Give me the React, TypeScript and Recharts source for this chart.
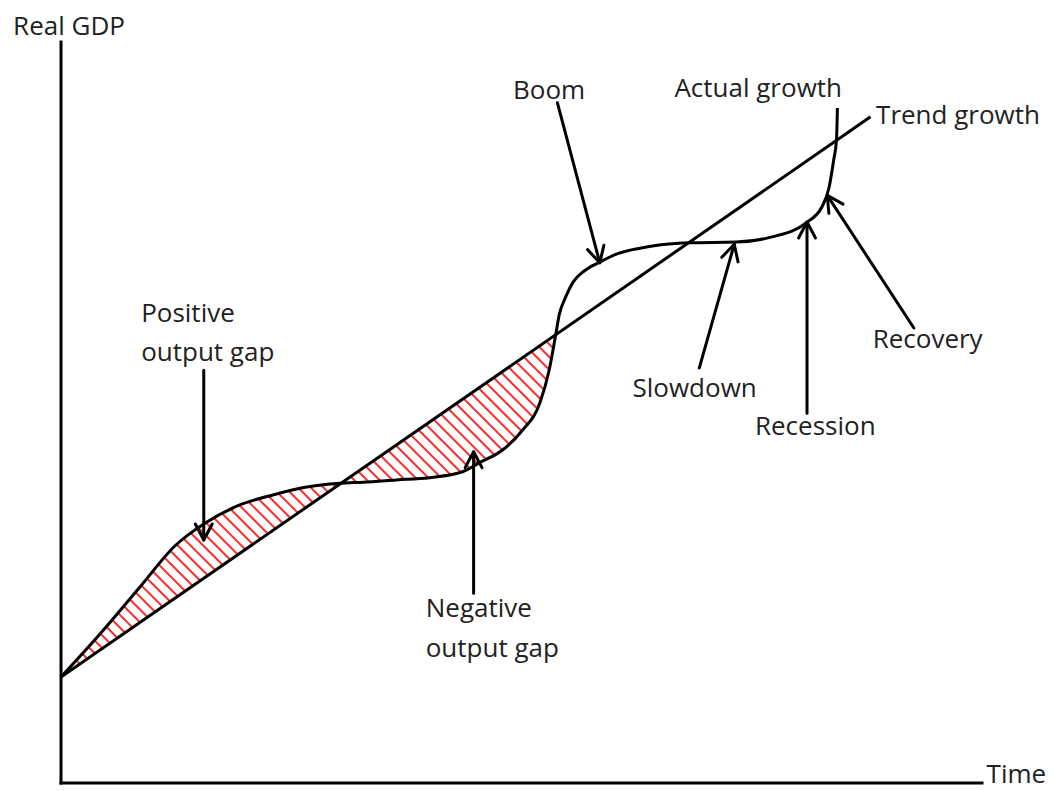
import React from 'react';
import {
  ComposedChart,
  Line,
  Area,
  XAxis,
  YAxis,
  ReferenceLine,
  ReferenceDot,
} from 'recharts';

// ---- Data (Time 0..100, Real GDP 0..100) ----
const actualTime = [
  0, 4.23, 8.57, 12.36, 15.84, 19.41, 23.0, 26.68, 30.26, 32.8, 36.4, 40.0, 43.6,
  45.4, 47.9, 50.1, 52.0, 53.0, 53.7, 54.1, 54.8, 55.6, 56.8, 58.5, 60.6, 63.9,
  68.2, 73.3, 77.2, 80.9, 82.6, 83.4, 83.9, 84.2, 84.3,
];
const actualGdp = [
  14.3, 20.1, 26.45, 31.98, 35.22, 37.52, 38.87, 39.94, 40.44, 40.6, 40.9, 41.2,
  42.0, 43.2, 44.9, 47.6, 51.3, 55.7, 60.4, 63.2, 65.6, 67.6, 69.1, 70.3, 71.5,
  72.4, 72.9, 73.0, 73.7, 75.6, 77.7, 80.4, 84.1, 86.8, 91.1,
];

// output-gap region (actual vs trend read at the same times)
const gapTime = [
  0, 4.23, 8.57, 12.36, 15.84, 19.41, 23.0, 26.68, 30.26, 32.8, 36.4, 40.0, 43.6,
  45.4, 47.9, 50.1, 52.0, 53.0, 53.7,
];
const gapActual = [
  14.3, 20.1, 26.45, 31.98, 35.22, 37.52, 38.87, 39.94, 40.44, 40.6, 40.9, 41.2,
  42.0, 43.2, 44.9, 47.6, 51.3, 55.7, 60.4,
];
const gapTrend = [
  14.3, 17.9, 21.7, 24.9, 27.9, 31.0, 34.1, 37.2, 40.3, 42.5, 45.6, 48.7, 51.8,
  53.3, 55.5, 57.4, 59.0, 59.9, 60.4,
];

const trendTime = [0, 87.9];
const trendGdp = [14.3, 89.9];

// axes drawn as segments: [fromTime, fromGdp] -> [toTime, toGdp]
const axisFrom = [
  [0, 0],
  [0, 0],
];
const axisTo = [
  [0, 100],
  [100, 0],
];

// annotation arrows
const arrowFrom = [
  [15.5, 55.7],
  [44.8, 25.6],
  [53.9, 91.8],
  [69.3, 56.0],
  [81.0, 49.9],
  [92.6, 61.4],
];
const arrowTo = [
  [15.5, 32.8],
  [44.8, 44.7],
  [58.5, 70.2],
  [73.1, 72.7],
  [81.0, 75.7],
  [83.2, 79.3],
];

// text labels
const labelText = [
  'Real GDP',
  'Time',
  'Trend growth',
  'Actual growth',
  'Boom',
  'Positive',
  'output gap',
  'Negative',
  'output gap',
  'Slowdown',
  'Recession',
  'Recovery',
];
const labelTime = [-5.2, 100.5, 88.5, 75.7, 53.0, 8.7, 8.7, 39.6, 39.6, 68.8, 81.9, 94.1];
const labelGdp = [100.9, 0.0, 88.9, 92.6, 92.3, 62.2, 56.9, 22.4, 17.0, 52.1, 47.0, 58.7];
const labelAnchor = [
  'start', 'start', 'start', 'middle', 'middle', 'start', 'start', 'start',
  'start', 'middle', 'middle', 'middle',
];

const actualRows = actualTime.map((x, i) => ({ x, gdp: actualGdp[i] }));
const gapRows = gapTime.map((x, i) => ({ x, range: [gapTrend[i], gapActual[i]] }));
const trendRows = trendTime.map((x, i) => ({ x, gdp: trendGdp[i] }));

const FONT = "'Open Sans', 'DejaVu Sans', sans-serif";

const AxisShape = (props: any) => {
  const { x1, y1, x2, y2 } = props;
  return (
    <line
      x1={x1}
      y1={y1}
      x2={x2}
      y2={y2}
      stroke="#000"
      strokeWidth={3}
      strokeLinecap="square"
    />
  );
};

const ArrowShape = (props: any) => {
  const { x1, y1, x2, y2 } = props;
  const ang = Math.atan2(y2 - y1, x2 - x1);
  const len = 18;
  const half = (28 * Math.PI) / 180;
  const ax1 = x2 - len * Math.cos(ang - half);
  const ay1 = y2 - len * Math.sin(ang - half);
  const ax2 = x2 - len * Math.cos(ang + half);
  const ay2 = y2 - len * Math.sin(ang + half);
  return (
    <g stroke="#000" strokeWidth={3} fill="none" strokeLinecap="round" strokeLinejoin="round">
      <line x1={x1} y1={y1} x2={x2} y2={y2} />
      <polyline points={`${ax1},${ay1} ${x2},${y2} ${ax2},${ay2}`} />
    </g>
  );
};

const makeLabel = (text: string, anchor: string) => (p: any) =>
  (
    <text
      x={p.cx}
      y={p.cy}
      textAnchor={anchor as any}
      fontFamily={FONT}
      fontSize={26}
      fill="#222"
    >
      {text}
    </text>
  );

export default function App() {
  return (
    <div style={{ position: 'absolute', left: 0, top: 0, width: 1054, height: 791, background: '#fff' }}>
      <ComposedChart
        width={1054}
        height={791}
        margin={{ top: 42, right: 72, bottom: 8, left: 61 }}
      >
        <defs>
          <pattern
            id="hatch"
            patternUnits="userSpaceOnUse"
            width={9}
            height={9}
            patternTransform="rotate(-45)"
          >
            <line x1={1} y1={0} x2={1} y2={9} stroke="#ff2a2a" strokeWidth={2} />
          </pattern>
        </defs>
        <XAxis
          type="number"
          dataKey="x"
          domain={[0, 100]}
          allowDataOverflow
          height={0}
          tick={false}
          tickLine={false}
          axisLine={false}
        />
        <YAxis
          type="number"
          domain={[0, 100]}
          allowDataOverflow
          width={0}
          tick={false}
          tickLine={false}
          axisLine={false}
        />
        <Area
          data={gapRows}
          dataKey="range"
          type="monotone"
          stroke="none"
          fill="url(#hatch)"
          fillOpacity={1}
          isAnimationActive={false}
        />
        <Line
          data={trendRows}
          dataKey="gdp"
          type="linear"
          stroke="#000"
          strokeWidth={3}
          dot={false}
          isAnimationActive={false}
        />
        <Line
          data={actualRows}
          dataKey="gdp"
          type="monotone"
          stroke="#000"
          strokeWidth={3}
          dot={false}
          isAnimationActive={false}
        />
        {axisFrom.map((f, i) => (
          <ReferenceLine
            key={`axis-${i}`}
            segment={[
              { x: f[0], y: f[1] },
              { x: axisTo[i][0], y: axisTo[i][1] },
            ]}
            ifOverflow="visible"
            shape={AxisShape}
          />
        ))}
        {arrowFrom.map((f, i) => (
          <ReferenceLine
            key={`arrow-${i}`}
            segment={[
              { x: f[0], y: f[1] },
              { x: arrowTo[i][0], y: arrowTo[i][1] },
            ]}
            ifOverflow="visible"
            shape={ArrowShape}
          />
        ))}
        {labelText.map((t, i) => (
          <ReferenceDot
            key={`label-${i}`}
            x={labelTime[i]}
            y={labelGdp[i]}
            r={0}
            ifOverflow="visible"
            shape={makeLabel(t, labelAnchor[i])}
          />
        ))}
      </ComposedChart>
    </div>
  );
}
